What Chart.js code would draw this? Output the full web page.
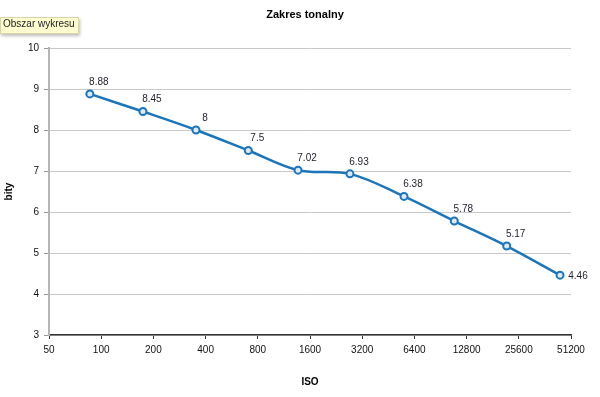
<!DOCTYPE html>
<html>
<head>
<meta charset="utf-8">
<script src="https://cdn.jsdelivr.net/npm/chart.js@4"></script>
<style>
  html, body { margin: 0; padding: 0; background: #fff; }
  #wrap { position: relative; width: 600px; height: 397px; }
  #tip {
    position: absolute; left: 0; top: 17px; height: 15px; line-height: 15px;
    padding: 0 3px 0 2px; background: #fdfdd0; border: 1px solid #d8d6a8;
    box-shadow: 1px 2px 3px rgba(0,0,0,0.25);
    font: 10px "Liberation Sans", Arial, sans-serif; color: #222;
  }
</style>
</head>
<body>
<div id="wrap">
  <canvas id="chart" width="600" height="397"></canvas>
  <div id="tip">Obszar wykresu</div>
</div>
<script>
// measured ISO (x) and dynamic range in bits (y)
const isoValues = [86, 174, 352, 705, 1365, 2720, 5575, 10870, 21800, 44250];
const bitValues = [8.88, 8.45, 8, 7.5, 7.02, 6.93, 6.38, 5.78, 5.17, 4.46];
const isoTicks = [50, 100, 200, 400, 800, 1600, 3200, 6400, 12800, 25600, 51200];
const bitTicks = [3, 4, 5, 6, 7, 8, 9, 10];

const lineColor = '#1b75bb';

// draws title and value labels next to points
const extras = {
  id: 'extras',
  afterDatasetsDraw(chart) {
    const ctx = chart.ctx;
    const meta = chart.getDatasetMeta(0);
    ctx.save();
    ctx.font = '10px "Liberation Sans", Arial, sans-serif';
    ctx.fillStyle = '#1e1e2a';
    ctx.textAlign = 'center';
    ctx.textBaseline = 'middle';
    meta.data.forEach((pt, i) => {
      let dx = 9, dy = -12;
      if (i === meta.data.length - 1) { dx = 18; dy = 1; }
      ctx.fillText(String(bitValues[i]), pt.x + dx, pt.y + dy);
    });
    ctx.font = 'bold 11px "Liberation Sans", Arial, sans-serif';
    ctx.fillStyle = '#000';
    ctx.fillText('Zakres tonalny', 305, 15);
    ctx.restore();
  }
};

new Chart(document.getElementById('chart'), {
  type: 'scatter',
  data: {
    datasets: [{
      data: isoValues.map((x, i) => ({ x: x, y: bitValues[i] })),
      showLine: true,
      borderColor: lineColor,
      borderWidth: 2.5,
      tension: 0.35,
      pointRadius: 3.5,
      pointBorderWidth: 2,
      pointBorderColor: lineColor,
      pointBackgroundColor: '#dce9f5'
    }]
  },
  options: {
    responsive: false,
    animation: false,
    layout: { padding: { top: 48, right: 29, left: 0, bottom: 0 } },
    plugins: { legend: { display: false }, tooltip: { enabled: false }, title: { display: false } },
    scales: {
      x: {
        type: 'logarithmic',
        min: 50,
        max: 51200,
        afterBuildTicks: s => { s.ticks = isoTicks.map(v => ({ value: v })); },
        afterFit: s => { s.height = 62; },
        ticks: {
          autoSkip: false, maxRotation: 0, padding: 5,
          color: '#111', font: { size: 10, family: '"Liberation Sans", Arial, sans-serif' },
          callback: v => String(v)
        },
        grid: { drawOnChartArea: false, tickLength: 4, color: '#333', lineWidth: 1 },
        border: { color: '#333', width: 1.5 },
        title: {
          display: true, text: 'ISO', color: '#000',
          font: { size: 10, weight: 'bold', family: '"Liberation Sans", Arial, sans-serif' },
          padding: { top: 17, bottom: 9 }
        }
      },
      y: {
        min: 3,
        max: 10,
        afterBuildTicks: s => { s.ticks = bitTicks.map(v => ({ value: v })); },
        afterFit: s => { s.width = 49; },
        ticks: {
          padding: 5, color: '#111',
          font: { size: 10, family: '"Liberation Sans", Arial, sans-serif' }
        },
        grid: { color: '#c9c9c9', lineWidth: 1, tickLength: 5, tickColor: '#999' },
        border: { color: '#b5b5b5', width: 2 },
        title: {
          display: true, text: 'bity', color: '#000',
          font: { size: 10, weight: 'bold', family: '"Liberation Sans", Arial, sans-serif' },
          padding: { top: 3 }
        }
      }
    }
  },
  plugins: [extras]
});
</script>
</body>
</html>
